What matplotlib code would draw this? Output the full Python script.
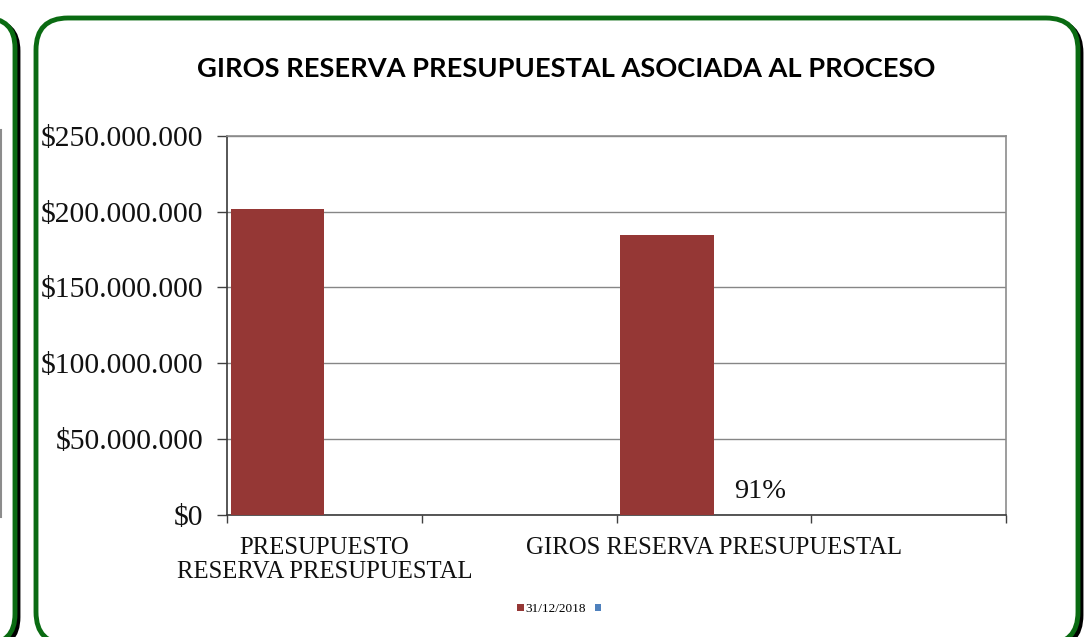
import matplotlib
matplotlib.use("Agg")
import matplotlib.pyplot as plt
from matplotlib.patches import FancyBboxPatch
from matplotlib.ticker import FuncFormatter

# ---- data ----
categories = ["PRESUPUESTO\nRESERVA PRESUPUESTAL", "", "GIROS RESERVA PRESUPUESTAL", ""]
series_2018 = [201.5e6, 0, 184.3e6, 0]
series_blank = [0, 0, 0, 0]
series_names = ["31/12/2018", ""]
pct_labels = ["", "", "91%", ""]
title = "GIROS RESERVA PRESUPUESTAL ASOCIADA AL PROCESO"
y_ticks = [0, 50e6, 100e6, 150e6, 200e6, 250e6]

W, H = 1087, 637
fig = plt.figure(figsize=(W / 100, H / 100), dpi=100)

# ---- background panels (pixel coordinates) ----
bg = fig.add_axes([0, 0, 1, 1], zorder=0)
bg.set_xlim(0, W)
bg.set_ylim(H, 0)
bg.axis("off")
green = "#0a6b12"
# left neighbouring panel
bg.add_patch(FancyBboxPatch((-300 + 3, 18 + 3), 315, 626, boxstyle="round,pad=0,rounding_size=30",
                            fc="none", ec="black", lw=3.5))
bg.add_patch(FancyBboxPatch((-300, 18), 315, 626, boxstyle="round,pad=0,rounding_size=30",
                            fc="white", ec=green, lw=3.5))
bg.plot([1, 1], [130, 517], color="#8c8c8c", lw=1.5)
# main panel
bg.add_patch(FancyBboxPatch((36 + 3, 18 + 3), 1042, 626, boxstyle="round,pad=0,rounding_size=32",
                            fc="none", ec="black", lw=3.5))
bg.add_patch(FancyBboxPatch((36, 18), 1042, 626, boxstyle="round,pad=0,rounding_size=32",
                            fc="white", ec=green, lw=3.5))

# ---- chart axes ----
ax = fig.add_axes([227 / W, 1 - 515 / H, (1006 - 227) / W, (515 - 135.7) / H], zorder=2)
ax.set_facecolor("none")
n = len(categories)
xs = list(range(n))
bw = 0.48
red = "#953735"
blue = "#4f81bd"
b1 = ax.bar([x - bw / 2 for x in xs], series_2018, width=bw, color=red, label=series_names[0], zorder=3)
b2 = ax.bar([x + bw / 2 for x in xs], series_blank, width=bw, color=blue, label=series_names[1], zorder=3)

for x, lab in zip(xs, pct_labels):
    if lab:
        ax.annotate(lab, (x + bw / 2, 0), xytext=(0, 12.5), textcoords="offset points",
                    ha="center", va="baseline", family="Liberation Serif", fontsize=20.5, color="#111111")

ax.set_xlim(-0.5, n - 0.5)
ax.set_ylim(0, 250e6)
ax.set_yticks(y_ticks)
ax.yaxis.set_major_formatter(FuncFormatter(lambda v, p: "${:,.0f}".format(v).replace(",", ".")))
ax.yaxis.grid(True, color="#868686", lw=1.0, zorder=1)
ax.set_axisbelow(True)

ax.set_xticks([x - 0.5 for x in xs] + [n - 0.5])
ax.set_xticklabels([])
ax.set_xticks(xs, minor=True)
ax.set_xticklabels(categories, minor=True, family="Liberation Serif", fontsize=17.8,
                   linespacing=1.1, color="#111111")
ax.tick_params(axis="x", which="minor", length=0, pad=16)
ax.tick_params(axis="x", which="major", length=6, width=1, color="#404040", direction="out")
ax.tick_params(axis="y", length=7, width=1, color="#404040", pad=10, labelsize=21.3, labelcolor="#111111")
for lab in ax.get_yticklabels():
    lab.set_family("Liberation Serif")

for s in ["top", "right"]:
    ax.spines[s].set_color("#8c8c8c")
    ax.spines[s].set_linewidth(1.2)
for s in ["left", "bottom"]:
    ax.spines[s].set_color("#3a3a3a")
    ax.spines[s].set_linewidth(1.2)

fig.text(566 / W, 1 - 69 / H, title, ha="center", va="center", family="Lato",
         fontweight="bold", fontsize=19.6, color="black", zorder=3)

leg = fig.legend(handles=[b1, b2], labels=series_names, loc="center",
                 bbox_to_anchor=(560 / W, 1 - 609 / H), ncol=2, frameon=False,
                 prop={"family": "Liberation Serif", "size": 9.5},
                 handlelength=0.5, handleheight=0.5, handletextpad=0.1, columnspacing=0.7,
                 borderpad=0, borderaxespad=0)

fig.savefig("out.png", dpi=100)
